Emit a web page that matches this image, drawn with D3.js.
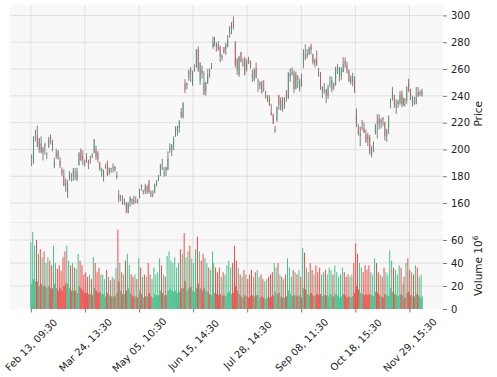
<!DOCTYPE html>
<html>
<head>
<meta charset="utf-8">
<script src="https://cdn.jsdelivr.net/npm/d3@7"></script>
<style>
  body { margin: 0; background: #fff; }
  text { font-family: "DejaVu Sans", sans-serif; fill: #222; }
</style>
</head>
<body>
<div id="chart-container"></div>
<script>
// hourly bars, one entry per trading day (Feb 13 .. Dec 8)

const dayOpen = [
  194.4,191.9,211.8,210.8,199.9, 204.4,197.9,203.9,196.3, 202.0,210.6,206.2,186.7,194.8,
  198.5,191.4,185.0,180.3,175.1, 167.5,177.3,180.8,180.4,180.3, 178.1,188.3,199.3,195.3,191.7,
  194.4,192.0,193.1,195.6,197.5, 199.9,197.3,190.5,183.1, 179.9,186.7,190.7,182.9,185.4,
  186.3,187.2,179.1,166.2,164.8, 164.7,159.8,160.3,152.6,160.9, 163.2,161.9,160.0,162.7,163.9,
  173.7,168.9,172.6,168.7,176.1, 167.7,165.7,168.4,174.2,177.2, 180.7,186.2,181.0,186.5,184.6,
  200.1,199.8,202.6,210.2, 213.1,216.1,228.0,224.2,249.1, 247.9,253.5,260.2,248.4,258.9,
  261.5,275.1,250.8,259.3, 250.1,243.2,249.7,258.0,260.6, 276.5,278.8,278.1,278.4,
  276.5,268.7,276.3,274.6,277.0, 286.6,290.2,296.0,279.6,268.0, 255.9,272.4,263.7,268.3,259.9,
  267.5,266.3,255.6,252.0,261.0, 251.5,247.4,250.9,245.4,241.8, 235.7,238.7,228.0,226.1,214.1,
  221.6,240.3,229.3,238.7,231.3, 242.6,238.6,254.2,256.0,257.3, 245.0,255.1,245.1,251.2,
  264.3,270.8,270.1,271.3,277.6, 271.2,264.4,267.0,257.9,257.4, 243.4,243.0,244.3,240.0,250.0,
  244.8,248.6,248.1,260.0,254.0, 255.3,257.8,266.2,262.9,258.9, 250.1,250.1,252.7,225.9,217.0,
  210.0,216.5,215.9,211.3,210.6, 209.3,196.1,204.0,213.0,221.2, 224.0,220.0,223.2,219.8,210.0,
  215.6,235.0,239.3,239.5,232.0, 234.0,235.0,242.0,233.8, 236.9,236.7,249.2,245.1,233.1,
  235.8,233.9,242.9,241.6,240.3
];
const dayHigh = [
  196.3,209.8,214.7,217.7,208.4, 209.7,201.9,205.1,197.7, 209.4,211.2,207.2,193.8,200.5,
  199.6,194.2,186.5,185.2,178.3, 177.4,183.8,182.3,186.2,186.2, 186.4,198.0,200.7,199.3,192.4,
  197.4,192.4,195.3,197.3,207.8, 202.7,198.7,190.7,186.4, 185.1,189.2,191.6,186.5,186.3,
  189.7,187.7,183.5,169.7,166.0, 165.7,163.5,160.7,160.5,165.0, 163.3,165.5,165.0,162.9,170.8,
  173.8,169.8,174.4,173.6,177.4, 169.5,169.5,174.5,177.1,181.0, 189.3,192.9,186.8,187.0,198.6,
  204.5,203.9,209.8,217.3, 217.6,221.9,230.8,235.2,252.4, 250.0,259.7,261.6,258.9,263.6,
  274.8,277.0,265.0,262.5, 258.4,250.4,259.9,260.7,264.5, 284.3,283.9,280.0,280.8,
  277.5,270.9,276.5,279.5,285.3, 292.2,295.3,299.3,280.9,268.0, 269.9,272.9,268.0,269.1,267.3,
  269.1,266.5,259.5,260.5,264.8, 253.0,250.9,250.9,251.8,243.8, 240.7,240.5,234.0,226.7,217.6,
  232.1,240.8,239.0,238.9,239.0, 244.4,257.5,260.5,261.2,259.1, 258.0,255.4,252.8,256.5,
  274.9,278.4,275.0,276.7,279.0, 271.4,267.9,273.9,260.9,257.8, 247.1,249.6,245.3,248.4,254.8,
  254.3,250.0,261.9,263.6,261.7, 261.4,268.9,268.6,265.4,259.6, 255.4,257.2,254.6,230.6,218.9,
  217.0,222.1,220.1,214.8,212.4, 210.9,202.8,206.0,219.2,226.4, 226.3,223.1,224.2,220.8,215.4,
  225.4,238.1,246.7,240.9,237.4, 237.1,243.6,244.0,238.8, 238.3,247.0,252.8,245.2,240.2,
  239.4,246.7,246.6,244.1,245.3
];
const dayLow = [
  187.6,189.4,206.1,201.8,197.5, 197.2,191.8,196.3,192.8, 201.1,203.8,198.5,186.0,192.9,
  192.3,186.1,180.0,172.5,168.4, 163.9,177.1,176.0,176.5,177.3, 176.4,188.0,191.8,188.3,187.2,
  189.9,185.4,189.4,193.6,197.2, 192.2,190.3,183.8,179.7, 176.1,185.6,180.3,180.9,182.6,
  182.7,183.6,177.7,160.6,161.3, 158.8,158.5,152.4,152.4,157.3, 158.8,158.9,159.9,159.7,163.5,
  169.2,166.6,166.7,166.8,167.2, 164.4,164.4,167.2,172.5,176.3, 180.1,184.6,179.6,180.1,184.5,
  197.5,195.1,199.4,209.4, 210.3,212.5,223.3,223.0,242.0, 245.0,251.3,250.5,247.5,258.0,
  261.1,257.8,248.3,252.8, 240.7,240.1,248.9,253.6,259.9, 275.2,276.9,272.9,273.8,
  265.1,266.4,271.5,270.6,276.3, 283.6,286.0,289.5,261.2,255.8, 254.1,265.0,261.7,255.3,258.2,
  263.8,260.3,250.5,250.9,253.1, 242.8,245.0,241.6,243.1,238.0, 235.6,232.6,225.4,218.9,212.4,
  220.6,229.6,229.3,228.2,230.4, 235.4,237.6,250.6,255.1,242.0, 244.9,245.8,243.3,246.7,
  260.6,266.6,268.1,270.4,271.0, 263.4,261.2,262.5,254.2,244.5, 238.3,241.7,234.6,237.7,246.4,
  242.6,244.5,247.6,256.3,250.7, 252.0,257.6,260.9,256.6,250.2, 248.5,247.1,242.1,216.8,210.4,
  202.5,214.1,212.2,204.9,202.6, 196.1,194.1,197.9,211.1,208.2, 215.0,215.7,217.6,206.7,205.7,
  211.6,230.7,236.5,231.0,226.5, 231.0,233.3,231.4,232.3, 232.1,234.0,242.8,236.9,231.9,
  233.3,233.7,239.2,240.0,239.4
];
const dayClose = [
  194.6,209.3,214.2,202.0,208.3, 197.4,200.9,202.1,196.9, 207.6,205.7,202.8,190.9,197.8,
  193.8,187.7,182.0,172.9,173.4, 174.5,183.3,180.5,184.1,180.1, 183.3,197.6,191.2,192.2,190.4,
  191.8,189.2,193.9,195.3,207.5, 194.8,192.6,185.5,185.1, 184.5,186.8,180.5,185.9,185.0,
  187.0,184.3,180.6,163.0,165.1, 162.6,160.7,153.8,160.2,164.3, 161.8,160.3,160.6,161.2,170.1,
  171.8,169.2,168.5,172.1,168.0, 166.4,166.5,173.9,176.9,180.1, 188.9,185.8,182.9,184.5,193.2,
  201.2,203.9,207.5,214.0, 217.6,221.3,224.6,234.9,244.4, 249.8,258.7,256.8,255.9,260.5,
  274.5,259.5,264.6,256.6, 241.1,250.2,256.2,257.5,261.8, 279.8,282.5,276.5,274.4,
  269.6,269.8,272.0,277.9,281.4, 290.4,293.3,291.3,262.9,260.0, 269.1,265.3,264.4,255.7,266.4,
  267.4,261.1,254.1,259.3,253.9, 251.5,249.7,242.2,245.3,242.7, 239.8,233.0,225.6,219.2,215.5,
  231.3,233.2,236.9,230.0,238.6, 238.8,257.2,256.9,258.1,245.0, 256.5,251.9,251.5,248.5,
  273.6,267.5,271.3,276.0,274.4, 265.3,266.5,262.6,255.7,244.9, 247.0,244.1,240.5,246.4,250.2,
  251.6,246.5,261.2,260.1,260.5, 259.7,263.6,263.0,258.9,251.1, 253.9,254.9,242.7,220.1,212.0,
  212.1,216.5,212.4,205.8,207.3, 197.4,200.8,205.7,218.5,220.0, 219.3,222.2,222.1,210.0,214.7,
  223.7,237.4,242.8,233.6,234.3, 235.6,241.2,234.2,235.5, 236.1,246.7,244.1,240.1,238.8,
  235.6,238.7,239.4,242.6,243.8
];

// volume in millions: opening hour, and the usual level of the other hours
const volFirst = [
  58,67,55,60,48, 52,45,50,40, 45,42,38,55,40, 35,38,33,45,50, 55,42,38,40,36, 35,48,42,38,30,
  32,28,30,26,45, 40,32,36,30, 30,26,34,28,25, 28,26,36,69,40, 32,30,42,48,38, 30,28,30,26,44,
  36,28,30,28,40, 30,26,36,30,32, 44,38,30,28,46, 50,42,40,45, 36,40,52,48,66, 45,50,55,44,40,
  52,63,50,42, 48,44,40,36,34, 50,40,36,32, 36,28,32,30,38, 42,36,40,55,42, 36,30,28,34,30,
  26,30,34,28,32, 34,28,30,26,24, 26,28,30,32,40, 36,40,30,28,26, 30,44,36,28,34, 32,30,34,28,
  53,49,36,32,40, 34,30,38,32,36, 30,32,34,30,36, 34,30,38,32,28, 30,36,32,28,30, 28,30,40,57,48,
  40,36,32,38,34, 38,32,30,44,40, 32,30,28,36,32, 30,51,42,36,34, 30,38,36,22, 28,40,44,34,32,
  30,38,36,28,30
];
const volRest = [
  22,26,24,24,20, 22,20,20,18, 20,18,18,22,18, 16,18,16,20,22, 22,18,16,16,16, 14,20,18,16,14,
  14,13,13,12,18, 16,14,15,13, 13,11,14,12,11, 11,11,14,24,16, 13,13,16,18,14, 12,11,11,10,16,
  13,10,11,11,14, 11,10,13,12,12, 16,14,12,12,16, 18,16,15,16, 14,15,18,18,24, 16,18,19,16,15,
  18,22,18,16, 18,16,15,13,12, 18,14,13,12, 13,11,12,11,14, 15,13,14,20,16, 13,11,10,12,11,
  10,11,12,11,12, 12,10,11,10,9, 10,10,11,12,15, 13,14,11,10,10, 11,16,13,11,12, 12,11,12,10,
  18,17,13,12,14, 12,11,13,12,13, 11,12,12,11,13, 12,11,13,12,10, 11,13,12,10,11, 10,11,14,20,17,
  14,13,12,13,12, 13,12,11,15,14, 12,11,10,13,12, 11,18,15,13,12, 11,13,12,8, 10,14,15,12,11,
  11,13,12,10,11
];

const halfDays = [96, 197];   // Jul 03 and Nov 24 close early (4 bars)
const tickBars = [0, 200, 400, 600, 800, 1000, 1200, 1400];
const tickLabels = ["Feb 13, 09:30", "Mar 24, 13:30", "May 05, 10:30", "Jun 15, 14:30",
  "Jul 28, 14:30", "Sep 08, 11:30", "Oct 18, 15:30", "Nov 29, 15:30"];
const priceTicks = [160, 180, 200, 220, 240, 260, 280, 300];
const volTicks = [0, 20, 40, 60];

// layout
const W = 497, H = 377;
const left = 10, right = 443;
const priceTop = 5, priceBottom = 222.5;
const volTop = 222.5, volBottom = 309;

const upCandle = "#2e9e6b", downCandle = "#dc4a4d", wickColor = "#5a5a5a";
const upVol = "#45c08a", downVol = "#f24a4a";

// bar index where each day starts
let start = 0;
const days = dayClose.map((c, i) => {
  const n = halfDays.includes(i) ? 4 : 7;
  const d = { i, s: start, n, o: dayOpen[i], h: dayHigh[i], l: dayLow[i], c,
              v1: volFirst[i], vr: volRest[i], up: c >= dayOpen[i] };
  start += n;
  return d;
});
const lastBar = start - 1;

const x = d3.scaleLinear()
  .domain([-77, lastBar + 75])
  .range([left, right]);

const y = d3.scaleLinear()
  .domain([145.5, 307.8])
  .range([priceBottom, priceTop]);

const yv = d3.scaleLinear()
  .domain([0, 75.2])
  .range([volBottom, volTop]);

const svg = d3.select("#chart-container")
  .append("svg")
    .attr("width", W)
    .attr("height", H);

// panel backgrounds
svg.append("rect")
  .attr("x", left).attr("y", priceTop)
  .attr("width", right - left).attr("height", volBottom - priceTop)
  .attr("fill", "#f8f8f8");

// grid
const grid = svg.append("g").attr("stroke", "#dadada").attr("stroke-width", 0.8);
grid.selectAll(".vg")
  .data(tickBars)
  .join("line")
    .attr("x1", d => x(d)).attr("x2", d => x(d))
    .attr("y1", priceTop).attr("y2", volBottom);
grid.selectAll(".pg")
  .data(priceTicks)
  .join("line")
    .attr("x1", left).attr("x2", right)
    .attr("y1", d => y(d)).attr("y2", d => y(d));
grid.selectAll(".vgh")
  .data(volTicks.filter(d => d > 0))
  .join("line")
    .attr("x1", left).attr("x2", right)
    .attr("y1", d => yv(d)).attr("y2", d => yv(d));
grid.append("line")
  .attr("x1", left).attr("x2", right)
  .attr("y1", volTop).attr("y2", volTop)
  .attr("stroke", "#e6e6e6");

// candles
const step = x(1) - x(0);
const cg = svg.append("g");
cg.selectAll(".wick")
  .data(days)
  .join("line")
    .attr("x1", d => x(d.s + (d.n - 1) / 2)).attr("x2", d => x(d.s + (d.n - 1) / 2))
    .attr("y1", d => y(d.h)).attr("y2", d => y(d.l))
    .attr("stroke", wickColor)
    .attr("stroke-width", 0.75);
cg.selectAll(".body")
  .data(days)
  .join("rect")
    .attr("x", d => x(d.s + (d.n - 1) / 2) - step * 1.6)
    .attr("width", step * 3.2)
    .attr("y", d => y(Math.max(d.o, d.c)))
    .attr("height", d => Math.max(0.8, Math.abs(y(d.o) - y(d.c))))
    .attr("fill", d => d.up ? upCandle : downCandle)
    .attr("fill-opacity", 0.75);

// volume
const vg = svg.append("g");
vg.selectAll(".vrest")
  .data(days)
  .join("rect")
    .attr("x", d => x(d.s + 0.5))
    .attr("width", d => x(d.s + d.n - 0.5) - x(d.s + 0.5))
    .attr("y", d => yv(d.vr))
    .attr("height", d => yv(0) - yv(d.vr))
    .attr("fill", d => d.up ? upVol : downVol)
    .attr("fill-opacity", 0.85);
vg.selectAll(".vfirst")
  .data(days)
  .join("rect")
    .attr("x", d => x(d.s) - 0.5)
    .attr("width", 1)
    .attr("y", d => yv(d.v1))
    .attr("height", d => yv(0) - yv(d.v1))
    .attr("fill", d => d.up ? upVol : downVol);

// right axes
const priceAxis = svg.append("g")
  .attr("transform", `translate(${right},0)`)
  .call(d3.axisRight(y).tickValues(priceTicks).tickSize(4).tickPadding(4));
const volAxis = svg.append("g")
  .attr("transform", `translate(${right},0)`)
  .call(d3.axisRight(yv).tickValues(volTicks).tickSize(4).tickPadding(4));
[priceAxis, volAxis].forEach(a => {
  a.select(".domain").remove();
  a.selectAll(".tick line").attr("stroke", "#555").attr("stroke-width", 0.8);
  a.selectAll(".tick text").attr("font-size", 10).attr("fill", "#222")
    .attr("font-family", "DejaVu Sans");
});

// bottom axis
const xAxis = svg.append("g")
  .attr("transform", `translate(0,${volBottom})`)
  .call(d3.axisBottom(x).tickValues(tickBars).tickSize(3.5)
    .tickFormat((d, i) => tickLabels[i]));
xAxis.select(".domain").remove();
xAxis.selectAll(".tick line").attr("stroke", "#555").attr("stroke-width", 0.8);
xAxis.selectAll(".tick text")
  .attr("font-size", 10)
  .attr("font-family", "DejaVu Sans")
  .attr("fill", "#222")
  .attr("text-anchor", "middle")
  .attr("dy", "0.35em")
  .attr("y", 0)
  .attr("transform", "translate(0,36) rotate(-45)");

// axis labels
svg.append("text")
  .attr("transform", `translate(482,${(priceTop + priceBottom) / 2}) rotate(-90)`)
  .attr("text-anchor", "middle")
  .attr("font-size", 10.5)
  .text("Price");
const vl = svg.append("text")
  .attr("transform", `translate(482,${(volTop + volBottom) / 2}) rotate(-90)`)
  .attr("text-anchor", "middle")
  .attr("font-size", 10.5);
vl.append("tspan").text("Volume  10");
vl.append("tspan").attr("dy", -4).attr("font-size", 7.5).text("6");
</script>
</body>
</html>
